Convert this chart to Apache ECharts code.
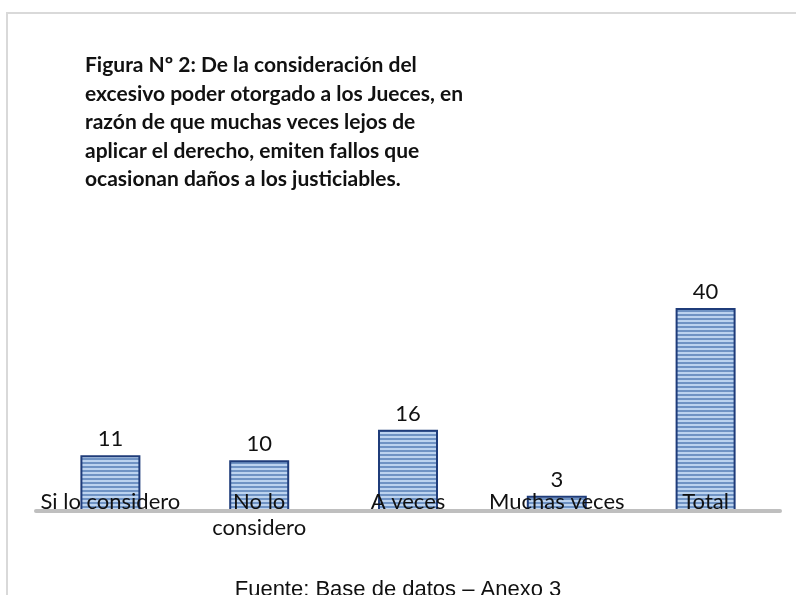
<!DOCTYPE html>
<html>
<head>
<meta charset="utf-8">
<script src="https://cdn.jsdelivr.net/npm/echarts@6/dist/echarts.min.js"></script>
<style>html,body{margin:0;padding:0;background:#fff;}#c{width:796px;height:595px;}</style>
</head>
<body>
<div id="c"></div>
<script>
var categories = ['Si lo considero', 'No lo considero', 'A veces', 'Muchas veces', 'Total'];
var values = [11, 10, 16, 3, 40];
var titleLines = [
  'Figura Nº 2: De la consideración del',
  'excesivo poder otorgado a los Jueces, en',
  'razón de que muchas veces lejos de',
  'aplicar el derecho, emiten fallos que',
  'ocasionan daños a los justiciables.'
];
var sourceText = 'Fuente: Base de datos – Anexo 3';

var pc = document.createElement('canvas');
pc.width = 8; pc.height = 4;
var ctx = pc.getContext('2d');
ctx.fillStyle = '#bcd3ef'; ctx.fillRect(0, 0, 8, 2);
ctx.fillStyle = '#6f93c4'; ctx.fillRect(0, 2, 8, 2);

var chart = echarts.init(document.getElementById('c'), null, {renderer: 'canvas'});
chart.setOption({
  animation: false,
  backgroundColor: '#ffffff',
  title: [{
    text: titleLines.join('\n'),
    left: 80, top: 46,
    textStyle: {fontFamily: 'Lato', fontWeight: 'bold', fontSize: 21, lineHeight: 28.5, color: '#111'}
  }, {
    text: sourceText,
    left: 'center', top: 574,
    textStyle: {fontFamily: 'Liberation Sans', fontWeight: 'normal', fontSize: 22, color: '#111'}
  }],
  graphic: [{
    type: 'rect', shape: {x: 7, y: 13, width: 820, height: 620},
    style: {fill: 'none', stroke: '#d9d9d9', lineWidth: 2}, silent: true
  }],
  grid: {left: 36, right: 16, top: 308, bottom: 84},
  xAxis: {
    type: 'category', data: categories, z: 5,
    axisLine: {show: true, lineStyle: {color: '#bfbfbf', width: 4}},
    axisTick: {show: false},
    axisLabel: {
      margin: -22, fontFamily: 'Lato', fontSize: 22, lineHeight: 26, color: '#111', interval: 0,
      formatter: function (v) { return v === 'No lo considero' ? 'No lo\nconsidero' : v; }
    }
  },
  yAxis: {type: 'value', min: 0, max: 40, show: false, splitLine: {show: false}},
  series: [{
    type: 'bar', data: values, barWidth: 60,
    itemStyle: {color: {image: pc, repeat: 'repeat'}, borderColor: '#1f3c7a', borderWidth: 2},
    label: {show: true, position: 'top', distance: 5, fontFamily: 'Lato', fontSize: 22, color: '#111'}
  }]
});
</script>
</body>
</html>
